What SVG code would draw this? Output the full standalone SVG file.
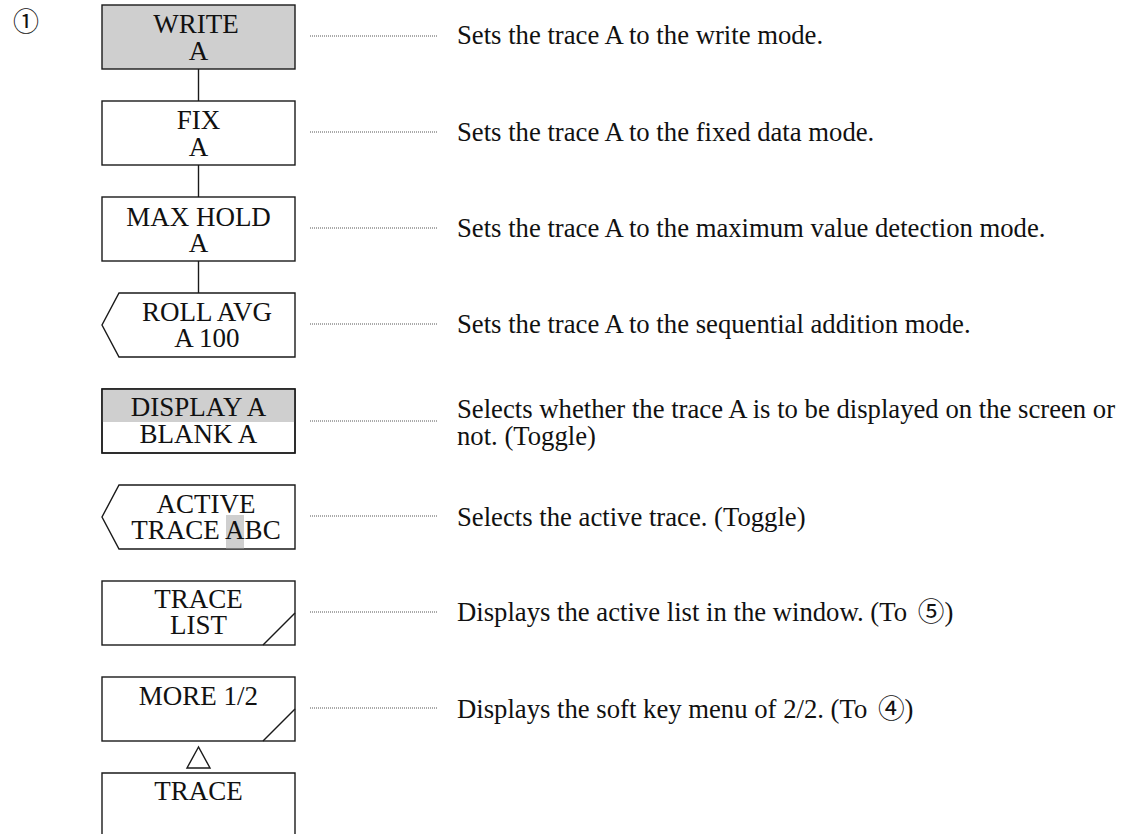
<svg xmlns="http://www.w3.org/2000/svg" width="1130" height="834" viewBox="0 0 1130 834">
<style>
.key{fill:#fff;stroke:#1a1a1a;stroke-width:1.4}
.lbl{font-family:"Liberation Serif","Times New Roman",serif;font-size:27px;fill:#111;text-anchor:middle}
.desc{font-family:"Liberation Serif","Noto Sans CJK JP","Times New Roman",serif;font-size:26.7px;fill:#111}
.cjk{font-family:"Noto Sans CJK JP",sans-serif}
.lead{stroke:#555;stroke-width:1;stroke-dasharray:1 1;fill:none}
.conn{stroke:#1a1a1a;stroke-width:1.4;fill:none}
.shade{fill:#cfcfcf}
</style>
<rect width="1130" height="834" fill="#fff"/>
<text x="13" y="31" class="cjk" font-size="26" fill="#111">①</text>

<g id="connectors">
<line class="conn" x1="198.5" y1="69" x2="198.5" y2="101"/>
<line class="conn" x1="198.5" y1="165" x2="198.5" y2="197"/>
<line class="conn" x1="198.5" y1="261" x2="198.5" y2="293"/>
<path class="conn" d="M198.5 747 L187 768 L210 768 Z"/>
<line class="lead" x1="310" y1="36" x2="438" y2="36"/>
<line class="lead" x1="310" y1="132" x2="438" y2="132"/>
<line class="lead" x1="310" y1="228" x2="438" y2="228"/>
<line class="lead" x1="310" y1="324" x2="438" y2="324"/>
<line class="lead" x1="310" y1="421" x2="438" y2="421"/>
<line class="lead" x1="310" y1="516" x2="438" y2="516"/>
<line class="lead" x1="310" y1="612" x2="438" y2="612"/>
<line class="lead" x1="310" y1="708" x2="438" y2="708"/>
</g>

<g id="write-a">
<rect class="key" x="102" y="5" width="193" height="64" style="fill:#cfcfcf"/>
<text class="lbl"><tspan x="196" y="33">WRITE</tspan><tspan x="198.5" y="60">A</tspan></text>
</g>
<g id="fix-a">
<rect class="key" x="102" y="101" width="193" height="64"/>
<text class="lbl"><tspan x="198.5" y="129">FIX</tspan><tspan x="198.5" y="156">A</tspan></text>
</g>
<g id="maxhold-a">
<rect class="key" x="102" y="197" width="193" height="64"/>
<text class="lbl"><tspan x="198.5" y="226">MAX HOLD</tspan><tspan x="198.5" y="252">A</tspan></text>
</g>
<g id="rollavg-a">
<path class="key" d="M119 293 H295 V357 H119 L102 325 Z"/>
<text class="lbl"><tspan x="207" y="321">ROLL AVG</tspan><tspan x="207" y="347">A 100</tspan></text>
</g>
<g id="display-a">
<rect class="key" x="102" y="389" width="193" height="64"/>
<rect class="shade" x="102.7" y="389.7" width="191.6" height="32.3"/>
<rect x="102" y="389" width="193" height="64" fill="none" stroke="#1a1a1a" stroke-width="1.4"/>
<text class="lbl"><tspan x="198.5" y="416">DISPLAY A</tspan><tspan x="198.5" y="443">BLANK A</tspan></text>
</g>
<g id="active-trace">
<path class="key" d="M119 485 H295 V549 H119 L102 517 Z"/>
<rect class="shade" x="226" y="515" width="18" height="33.3"/>
<text class="lbl"><tspan x="206" y="513">ACTIVE</tspan><tspan x="206" y="539">TRACE ABC</tspan></text>
</g>
<g id="trace-list">
<rect class="key" x="102" y="581" width="193" height="64"/>
<line class="conn" x1="263" y1="645" x2="295" y2="613"/>
<text class="lbl"><tspan x="198.5" y="608">TRACE</tspan><tspan x="198.5" y="634">LIST</tspan></text>
</g>
<g id="more-1-2">
<rect class="key" x="102" y="677" width="193" height="64"/>
<line class="conn" x1="263" y1="741" x2="295" y2="709"/>
<text class="lbl" x="198.5" y="705">MORE 1/2</text>
</g>
<g id="trace">
<path class="key" d="M102 840 V773 H295 V840"/>
<text class="lbl" x="198.5" y="800">TRACE</text>
</g>

<g id="descriptions">
<text class="desc" x="457" y="44">Sets the trace A to the write mode.</text>
<text class="desc" x="457" y="141">Sets the trace A to the fixed data mode.</text>
<text class="desc" x="457" y="237">Sets the trace A to the maximum value detection mode.</text>
<text class="desc" x="457" y="333">Sets the trace A to the sequential addition mode.</text>
<text class="desc"><tspan x="457" y="418">Selects whether the trace A is to be displayed on the screen or</tspan><tspan x="457" y="445">not. (Toggle)</tspan></text>
<text class="desc" x="457" y="526">Selects the active trace. (Toggle)</text>
<text class="desc" x="457" y="621">Displays the active list in the window. (To <tspan class="cjk" dx="4">⑤</tspan>)</text>
<text class="desc" x="457" y="718">Displays the soft key menu of 2/2. (To <tspan class="cjk" dx="4">④</tspan>)</text>
</g>
</svg>
